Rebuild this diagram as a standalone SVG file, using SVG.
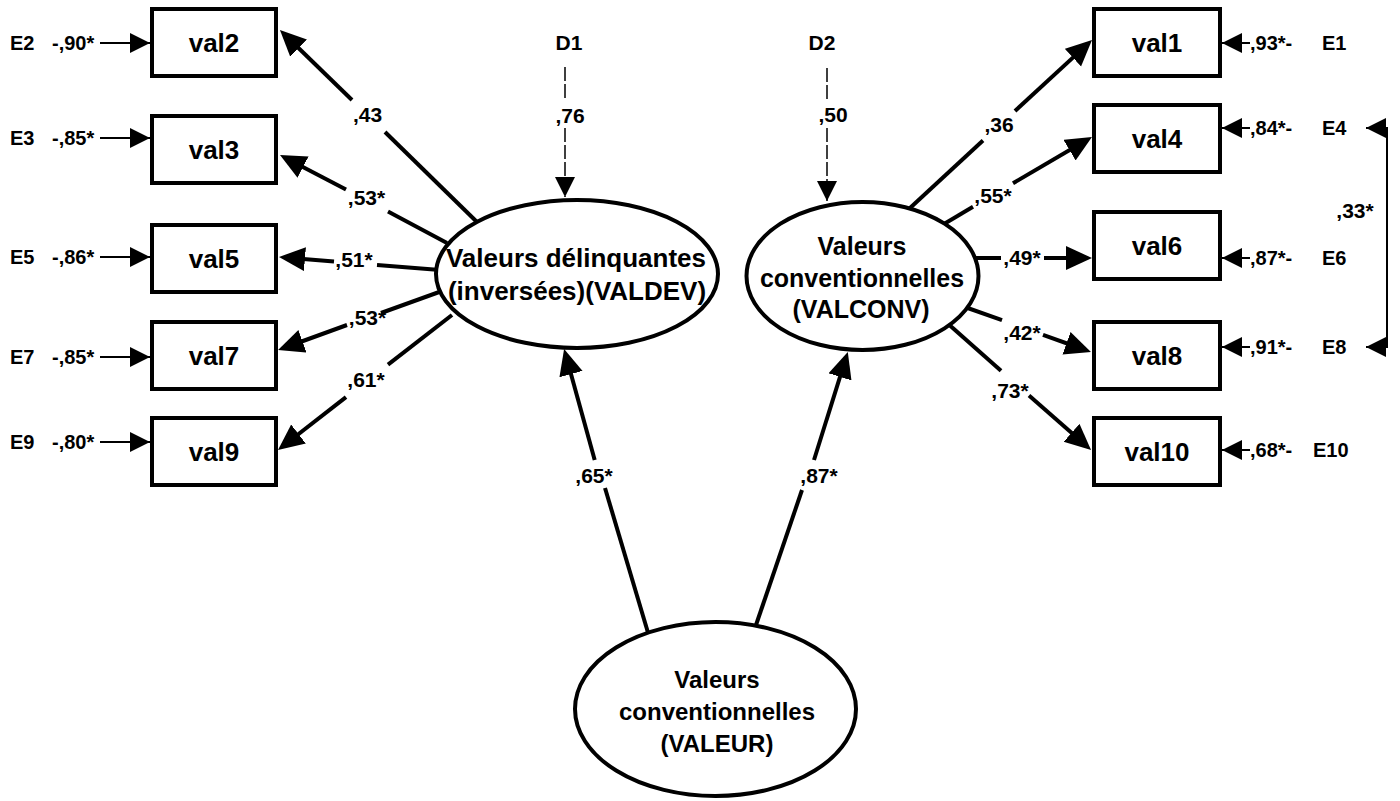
<svg xmlns="http://www.w3.org/2000/svg" width="1400" height="801" viewBox="0 0 1400 801">
<style>
text{font-family:"Liberation Sans",Arial,sans-serif;font-weight:bold;fill:#000}
.box{fill:#fff;stroke:#000;stroke-width:4}
.ell{fill:#fff;stroke:#000;stroke-width:4}
.bl{font-size:26px;text-anchor:middle}
.el{text-anchor:middle}
.cf{font-size:21px;text-anchor:middle}
.er{font-size:20px}
.main{fill:none;stroke:#000;stroke-width:4;stroke-linecap:butt}
.thin{fill:none;stroke:#000;stroke-width:2}
.dash{fill:none;stroke:#000;stroke-width:1.5;stroke-dasharray:14 3}
</style>
<defs>
<marker id="big" markerUnits="userSpaceOnUse" markerWidth="28" markerHeight="26" refX="17" refY="12" orient="auto"><path d="M0,0 L26,12 L0,24 z" fill="#000"/></marker>
<marker id="sm" markerUnits="userSpaceOnUse" markerWidth="22" markerHeight="22" refX="20" refY="10" orient="auto-start-reverse"><path d="M0,0 L20,10 L0,20 z" fill="#000"/></marker>
<marker id="dm" markerUnits="userSpaceOnUse" markerWidth="22" markerHeight="22" refX="20" refY="10" orient="auto"><path d="M0,0 L20,10 L0,20 z" fill="#000"/></marker>
</defs>

<g id="connectors">
<path class="main" d="M478,223 L385,132"/><path class="main" d="M352,100 L286.4,36.3" marker-end="url(#big)"/>
<path class="main" d="M447,243 L388,211.5"/><path class="main" d="M346,189.5 L288,159.2" marker-end="url(#big)"/>
<path class="main" d="M440,270 L377,265"/><path class="main" d="M334,261.5 L288,257.7" marker-end="url(#big)"/>
<path class="main" d="M442,291 L381,313"/><path class="main" d="M347,325 L286.5,347" marker-end="url(#big)"/>
<path class="main" d="M452,315 L388,364.7"/><path class="main" d="M346,397.2 L285.1,444.5" marker-end="url(#big)"/>
<path class="main" d="M910,208 L983,140.5"/><path class="main" d="M1015,111 L1085.4,46.1" marker-end="url(#big)"/>
<path class="main" d="M944,224 L973,206.8"/><path class="main" d="M1013,183.3 L1084.2,141.5" marker-end="url(#big)"/>
<path class="main" d="M972,258 L1001,258"/><path class="main" d="M1044,258 L1083,258" marker-end="url(#big)"/>
<path class="main" d="M962,306 L1002,320.2"/><path class="main" d="M1043,334.9 L1082.5,349" marker-end="url(#big)"/>
<path class="main" d="M946,322 L1001,370.7"/><path class="main" d="M1029,395.4 L1084.3,444.1" marker-end="url(#big)"/>
<path class="main" d="M649,636 L605,488"/><path class="main" d="M594.7,460 L566.5,357.7" marker-end="url(#big)"/>
<path class="main" d="M755,628 L802,490"/><path class="main" d="M814,460 L845.1,360.6" marker-end="url(#big)"/>
<path class="dash" d="M565,67 L565,99"/><path class="dash" d="M565,128 L565,197" marker-end="url(#dm)"/>
<path class="dash" d="M827,68 L827,99"/><path class="dash" d="M827,128 L827,201" marker-end="url(#dm)"/>
<path class="thin" d="M100,43 L150,43" marker-end="url(#sm)"/>
<path class="thin" d="M100,138 L150,138" marker-end="url(#sm)"/>
<path class="thin" d="M100,257 L150,257" marker-end="url(#sm)"/>
<path class="thin" d="M100,357 L150,357" marker-end="url(#sm)"/>
<path class="thin" d="M100,442 L150,442" marker-end="url(#sm)"/>
<path class="thin" d="M1250,43 L1222,43" marker-end="url(#sm)"/>
<path class="thin" d="M1250,128 L1222,128" marker-end="url(#sm)"/>
<path class="thin" d="M1250,258 L1222,258" marker-end="url(#sm)"/>
<path class="thin" d="M1250,347 L1222,347" marker-end="url(#sm)"/>
<path class="thin" d="M1250,450 L1222,450" marker-end="url(#sm)"/>
<path class="thin" d="M1366,128 L1387,128 L1387,347 L1366,347" marker-start="url(#sm)" marker-end="url(#sm)"/>
<text class="cf" x="367.5" y="122">,43</text>
<text class="cf" x="366.5" y="205">,53*</text>
<text class="cf" x="354" y="267">,51*</text>
<text class="cf" x="367.5" y="325">,53*</text>
<text class="cf" x="366" y="387">,61*</text>
<text class="cf" x="999" y="132">,36</text>
<text class="cf" x="993" y="203">,55*</text>
<text class="cf" x="1022" y="265">,49*</text>
<text class="cf" x="1022" y="340">,42*</text>
<text class="cf" x="1010" y="398">,73*</text>
<text class="cf" x="594" y="483">,65*</text>
<text class="cf" x="819" y="483">,87*</text>
<text class="cf" x="570" y="123">,76</text>
<text class="cf" x="833" y="122">,50</text>
<text class="cf" x="1355" y="218">,33*</text>
<text class="er" x="52" y="50">-,90*</text>
<text class="er" x="52" y="145">-,85*</text>
<text class="er" x="52" y="264">-,86*</text>
<text class="er" x="52" y="364">-,85*</text>
<text class="er" x="52" y="449">-,80*</text>
<text class="er" x="1250" y="50">,93*-</text>
<text class="er" x="1250" y="135">,84*-</text>
<text class="er" x="1250" y="265">,87*-</text>
<text class="er" x="1250" y="354">,91*-</text>
<text class="er" x="1250" y="457">,68*-</text>
</g>

<g id="E2"><text class="er" x="10" y="50">E2</text></g>
<g id="E3"><text class="er" x="10" y="145">E3</text></g>
<g id="E5"><text class="er" x="10" y="264">E5</text></g>
<g id="E7"><text class="er" x="10" y="364">E7</text></g>
<g id="E9"><text class="er" x="10" y="449">E9</text></g>
<g id="E1"><text class="er" x="1322" y="50">E1</text></g>
<g id="E4"><text class="er" x="1322" y="135">E4</text></g>
<g id="E6"><text class="er" x="1322" y="265">E6</text></g>
<g id="E8"><text class="er" x="1322" y="354">E8</text></g>
<g id="E10"><text class="er" x="1313" y="457">E10</text></g>
<g id="D1"><text class="cf" x="569" y="50">D1</text></g>
<g id="D2"><text class="cf" x="822" y="50">D2</text></g>

<g id="val2"><rect class="box" x="152" y="9" width="124" height="67"/><text class="bl" x="214" y="52">val2</text></g>
<g id="val3"><rect class="box" x="152" y="116" width="124" height="67"/><text class="bl" x="214" y="159">val3</text></g>
<g id="val5"><rect class="box" x="152" y="225" width="124" height="67"/><text class="bl" x="214" y="268">val5</text></g>
<g id="val7"><rect class="box" x="152" y="322" width="124" height="67"/><text class="bl" x="214" y="365">val7</text></g>
<g id="val9"><rect class="box" x="152" y="418" width="124" height="67"/><text class="bl" x="214" y="461">val9</text></g>
<g id="val1"><rect class="box" x="1094" y="9" width="126" height="67"/><text class="bl" x="1157" y="52">val1</text></g>
<g id="val4"><rect class="box" x="1094" y="105" width="126" height="67"/><text class="bl" x="1157" y="148">val4</text></g>
<g id="val6"><rect class="box" x="1094" y="212" width="126" height="67"/><text class="bl" x="1157" y="255">val6</text></g>
<g id="val8"><rect class="box" x="1094" y="322" width="126" height="67"/><text class="bl" x="1157" y="365">val8</text></g>
<g id="val10"><rect class="box" x="1094" y="418" width="126" height="67"/><text class="bl" x="1157" y="461">val10</text></g>

<g id="VALDEV"><ellipse class="ell" cx="577" cy="274" rx="141" ry="74"/>
<text class="el" font-size="26" x="576" y="267">Valeurs délinquantes</text>
<text class="el" font-size="26" x="577" y="300">(inversées)(VALDEV)</text></g>
<g id="VALCONV"><ellipse class="ell" cx="862.5" cy="276" rx="116" ry="74"/>
<text class="el" font-size="25" x="862" y="255">Valeurs</text>
<text class="el" font-size="25" x="862" y="287">conventionnelles</text>
<text class="el" font-size="25" x="861" y="318">(VALCONV)</text></g>
<g id="VALEUR"><ellipse class="ell" cx="715.5" cy="709" rx="140.5" ry="87"/>
<text class="el" font-size="24" x="717" y="688">Valeurs</text>
<text class="el" font-size="24" x="717" y="720">conventionnelles</text>
<text class="el" font-size="24" x="717" y="752">(VALEUR)</text></g>
</svg>
